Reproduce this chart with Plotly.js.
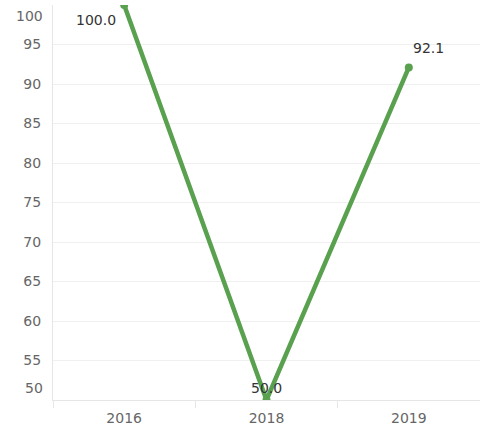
<!DOCTYPE html>
<html><head><meta charset="utf-8">
<script src="https://cdn.plot.ly/plotly-3.0.1.min.js"></script>
<style>html,body{margin:0;padding:0;background:#fff}#chart{width:480px;height:433px}</style>
</head><body><div id="chart"></div>
<script>
var years = ["2016", "2018", "2019"];
var values = [100.0, 50.0, 92.1];
var valueLabels = ["100.0", "50.0", "92.1"];
var labelShiftX = [-28, 0, 20];
var labelShiftY = [-15, 12, 19];
var yTickVals = [50, 55, 60, 65, 70, 75, 80, 85, 90, 95, 100];
var yTickText = ["", "55", "60", "65", "70", "75", "80", "85", "90", "95", ""];
var FONT = "DejaVu Sans, sans-serif";

var trace = {
  x: years, y: values, type: "scatter", mode: "lines+markers",
  line: {color: "#59a14f", width: 4.5},
  marker: {color: "#59a14f", size: 8},
  cliponaxis: true, hoverinfo: "none"
};
// category axis: annotation x given as category index
var dataLabels = years.map(function (yr, i) {
  return {xref: "x", yref: "y", x: years.indexOf(yr), y: values[i], text: valueLabels[i],
    showarrow: false, xanchor: "center", yanchor: "middle",
    xshift: labelShiftX[i], yshift: labelShiftY[i],
    font: {family: FONT, size: 14, color: "#333"}};
});
var layout = {
  width: 480, height: 433,
  margin: {l: 53, r: 0, t: 5, b: 33},
  paper_bgcolor: "#fff", plot_bgcolor: "#fff",
  showlegend: false,
  xaxis: {
    type: "category", range: [-0.5, 2.5], tickson: "boundaries",
    ticks: "outside", ticklen: 7, tickcolor: "#e6e6e6",
    showgrid: false, showline: true, linecolor: "#e6e6e6", linewidth: 1,
    ticklabelstandoff: 5,
    tickfont: {family: FONT, size: 14, color: "#666"},
    zeroline: false
  },
  yaxis: {
    range: [50, 100], tickvals: yTickVals, ticktext: yTickText,
    showgrid: true, gridcolor: "#f0f0f0", gridwidth: 1,
    showline: true, linecolor: "#e6e6e6", linewidth: 1,
    ticks: "", ticklabelstandoff: 8, zeroline: false,
    tickfont: {family: FONT, size: 14, color: "#666"}
  },
  annotations: dataLabels.concat([
    {xref: "paper", yref: "y", x: 0, y: 100, text: "100", showarrow: false,
     xanchor: "right", xshift: -8, yshift: -11,
     font: {family: FONT, size: 14, color: "#666"}},
    {xref: "paper", yref: "y", x: 0, y: 50, text: "50", showarrow: false,
     xanchor: "right", xshift: -8, yshift: 12,
     font: {family: FONT, size: 14, color: "#666"}}
  ])
};
Plotly.newPlot("chart", [trace], layout, {displayModeBar: false, staticPlot: true});
</script></body></html>
